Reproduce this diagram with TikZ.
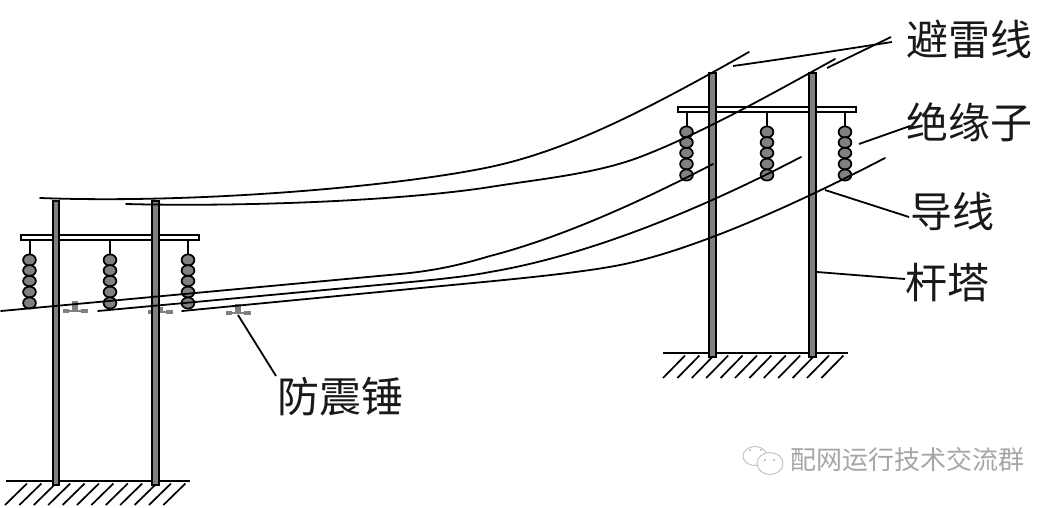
\documentclass[tikz,border=0pt]{standalone}
\usepackage{fontspec}
\newfontfamily\cjk{Noto Sans CJK SC}
\tikzset{
 pole/.style={draw=black,fill=black!50,line width=2pt},
 arm/.style={draw=black,fill=white,line width=2pt},
 bead/.style={draw=black,fill=black!50,line width=1.7pt},
 wire/.style={draw=black,line width=1.8pt,line cap=round,line join=round},
 rod/.style={draw=black,line width=2pt},
 leader/.style={draw=black,line width=1.8pt},
 hatch/.style={draw=black,line width=1.7pt},
 dampbody/.style={fill=black!50,draw=none},
 dampline/.style={draw=black!50,line width=2pt},
 lbl/.style={font=\cjk\fontsize{42}{42}\selectfont,inner sep=0pt,text=black!90},
 wm/.style={font=\cjk\fontsize{26}{26}\selectfont,inner sep=0pt,text=black!35},
 wmicon/.style={draw=black!25,fill=white,line width=0.9pt},
 wmeye/.style={fill=black!30,draw=none}
}
\newcommand{\insulator}[2]{%
 \draw[rod] (#1,#2) -- (#1,#2+15);
 \foreach \dy/\rr in {20/5.6,30.5/5.4,41/5.2,52/5.4,63/5.6}
  \draw[bead] (#1,#2+\dy) ellipse (6.4pt and \rr pt);
}
\newcommand{\damper}[3]{%
 \draw[dampline] (#1-11.5,#2) -- (#1+12,#2);
 \fill[dampbody] (#1-3,#2-#3) rectangle (#1+3,#2+1);
 \fill[dampbody] (#1-12,#2-2.4) rectangle (#1-6.5,#2+2.4);
 \fill[dampbody] (#1+6,#2-2.4) rectangle (#1+12.5,#2+2.4);
}
\begin{document}
\begin{tikzpicture}[x=1pt,y=-1pt]
\useasboundingbox (0,0) rectangle (1058,507);
% ground
\draw[hatch] (6,481) -- (190,481);
\foreach \i in {0,...,11} \draw[hatch] (27+14.4*\i,483.5) -- (5+14.4*\i,505);
\draw[hatch] (663,353) -- (848,353);
\foreach \i in {0,...,11} \draw[hatch] (685+14.4*\i,355.5) -- (663+14.4*\i,378);
% dampers
\damper{75}{311}{10}
\damper{160}{312}{5}
\damper{238}{313}{9}
% cross arms
\draw[arm] (21,235.2) rectangle (199,239.8);
\draw[arm] (678,107) rectangle (856,111.7);
% poles
\draw[pole] (52.7,201) rectangle (58.7,484.5);
\draw[pole] (152,201) rectangle (158.7,484.5);
\draw[pole] (709.3,73) rectangle (715.7,356.5);
\draw[pole] (809.3,73) rectangle (815.7,356.5);
% insulators
\insulator{29.5}{240}
\insulator{110}{240}
\insulator{188}{240}
\insulator{686.5}{112}
\insulator{767}{112}
\insulator{845}{112}
% wires
\draw[wire] (40,198) .. controls (200,204) and (400,186) .. (490,167) .. controls (570,150) and (650,108) .. (749,52);
\draw[wire] (126,204) .. controls (240,207) and (400,201) .. (490,187) .. controls (540,179) and (595,174) .. (640,157) .. controls (700,134) and (770,95) .. (835,59);
\draw[wire] (1,311) -- (400,274) .. controls (435,270.7) and (460,265) .. (490,256) .. controls (560,238) and (640,202) .. (713,164);
\draw[wire] (98,311) -- (400,283) .. controls (440,279.3) and (470,276) .. (490,272) .. controls (590,255) and (700,209.5) .. (801,157);
\draw[wire] (182,311) -- (400,290) .. controls (470,283) and (570,275) .. (620,265) .. controls (700,249) and (810,197) .. (885,158);
% labels
\node[lbl] (bl) at (969,39) {避雷线};
\node[lbl] (jy) at (969,122) {绝缘子};
\node[lbl] (dx) at (952.5,211) {导线};
\node[lbl] (gt) at (947.5,282.5) {杆塔};
\node[lbl] (fz) at (340.5,397) {防震锤};
\node[wm] (wmk) at (907,460) {配网运行技术交流群};
% leader lines
\coordinate (a1) at (733,66); \coordinate (a2) at (892,42);
\coordinate (a3) at (827,68); \coordinate (a4) at (891,37);
\coordinate (b1) at (859,144); \coordinate (b2) at (910,126);
\coordinate (c1) at (825,190); \coordinate (c2) at (909,217);
\coordinate (d1) at (817,272); \coordinate (d2) at (905,279);
\coordinate (e1) at (238,315); \coordinate (e2) at (276,376);
\draw[leader] (a1) .. controls (790,58) and (840,50) .. (a2);
\draw[leader] (a3) -- (a4);
\draw[leader] (b1) -- (b2);
\draw[leader] (c1) -- (c2);
\draw[leader] (d1) -- (d2);
\draw[leader] (e1) -- (e2);
% watermark icon
\draw[wmicon] (755,456) ellipse (12pt and 9.5pt);
\draw[wmicon] (770,463.5) ellipse (13pt and 11pt);
\fill[wmeye] (750,450) circle (1.1pt) (761,450) circle (1.1pt) (765,460) circle (1.1pt) (774,460) circle (1.1pt);
\end{tikzpicture}
\end{document}
